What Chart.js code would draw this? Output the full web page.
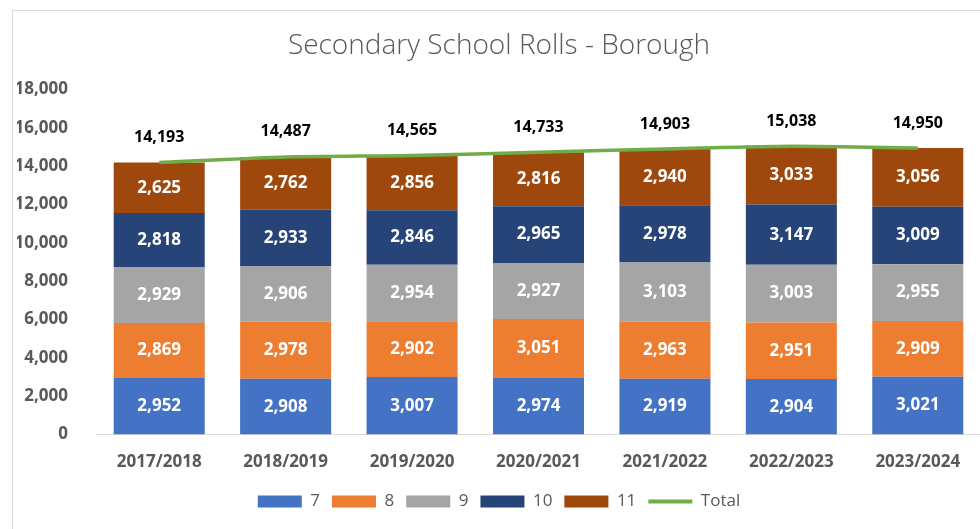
<!DOCTYPE html>
<html>
<head>
<meta charset="utf-8">
<script src="https://cdn.jsdelivr.net/npm/chart.js@4"></script>
<style>
  html, body { margin: 0; padding: 0; background: #fff; }
  #wrap { position: absolute; left: 12px; top: 10px; width: 968px; height: 519px;
          border-left: 1px solid #d9d9d9; border-top: 1px solid #d9d9d9; }
  canvas { position: absolute; left: 0; top: 0; }
</style>
</head>
<body>
<div id="wrap"><canvas id="chart" width="968" height="519"></canvas></div>
<script>
const years = ["2017/2018", "2018/2019", "2019/2020", "2020/2021", "2021/2022", "2022/2023", "2023/2024"];
const year7  = [2952, 2908, 3007, 2974, 2919, 2904, 3021];
const year8  = [2869, 2978, 2902, 3051, 2963, 2951, 2909];
const year9  = [2929, 2906, 2954, 2927, 3103, 3003, 2955];
const year10 = [2818, 2933, 2846, 2965, 2978, 3147, 3009];
const year11 = [2625, 2762, 2856, 2816, 2940, 3033, 3056];
const totals = [14193, 14487, 14565, 14733, 14903, 15038, 14950];

const fmt = v => v.toLocaleString("en-GB");
const font = "Open Sans";

// draws the value labels like excel data labels
const valueLabels = {
  id: "valueLabels",
  afterDatasetsDraw(chart) {
    const ctx = chart.ctx;
    ctx.save();
    ctx.textAlign = "center";
    ctx.textBaseline = "middle";
    chart.data.datasets.forEach((ds, i) => {
      const meta = chart.getDatasetMeta(i);
      meta.data.forEach((el, j) => {
        const v = ds.data[j];
        if (ds.type === "line") {
          ctx.fillStyle = "#000";
          ctx.font = "bold 16px '" + font + "'";
          ctx.fillText(fmt(v), el.x, el.y - 25);
        } else {
          ctx.fillStyle = "#fff";
          ctx.font = "bold 17px '" + font + "'";
          ctx.fillText(fmt(v), el.x, (el.y + el.base) / 2);
        }
      });
    });
    ctx.restore();
  }
};

const bar = (label, data, color) => ({
  type: "bar", label, data, backgroundColor: color, borderWidth: 0,
  categoryPercentage: 1, barPercentage: 0.72, order: 1, stack: "s"
});

new Chart(document.getElementById("chart"), {
  data: {
    labels: years,
    datasets: [
      bar("7", year7, "#4472C4"),
      bar("8", year8, "#ED7D31"),
      bar("9", year9, "#A5A5A5"),
      bar("10", year10, "#264478"),
      bar("11", year11, "#9E480E"),
      {
        type: "line", label: "Total", data: totals, borderColor: "#70AD47",
        backgroundColor: "#70AD47", borderWidth: 3.5, pointRadius: 0,
        tension: 0.2, order: 0, stack: "total"
      }
    ]
  },
  options: {
    responsive: false,
    animation: false,
    layout: { padding: { left: 4, right: 0, top: 8, bottom: 10 } },
    plugins: {
      title: {
        display: true, text: "Secondary School Rolls - Borough",
        color: "#595959", font: { family: font, size: 28, weight: "300" },
        padding: { top: 10, bottom: 27 }
      },
      legend: {
        position: "bottom",
        labels: {
          color: "#595959", font: { family: font, size: 17 },
          usePointStyle: true, pointStyleWidth: 44, boxHeight: 12, padding: 12,
          sort: (a, b) => a.datasetIndex - b.datasetIndex,
          generateLabels(chart) {
            const items = Chart.defaults.plugins.legend.labels.generateLabels(chart);
            items.forEach(it => {
              if (it.text === "Total") {
                it.pointStyle = "line"; it.strokeStyle = "#70AD47"; it.lineWidth = 4;
              } else {
                it.pointStyle = "rect"; it.lineWidth = 0;
              }
            });
            return items;
          }
        }
      },
      tooltip: { enabled: false }
    },
    scales: {
      x: {
        stacked: true,
        grid: { display: false },
        border: { display: true, color: "#d9d9d9", width: 1 },
        ticks: { color: "#595959", font: { family: font, size: 17, weight: "bold" }, padding: 9 }
      },
      y: {
        stacked: true, min: 0, max: 18000,
        grid: { display: false },
        border: { display: false },
        afterFit(scale) { scale.width = 79; },
        ticks: { stepSize: 2000, color: "#595959", padding: 20,
                 font: { family: font, size: 17, weight: "bold" },
                 callback: v => fmt(v) }
      }
    }
  },
  plugins: [valueLabels]
});
</script>
</body>
</html>
